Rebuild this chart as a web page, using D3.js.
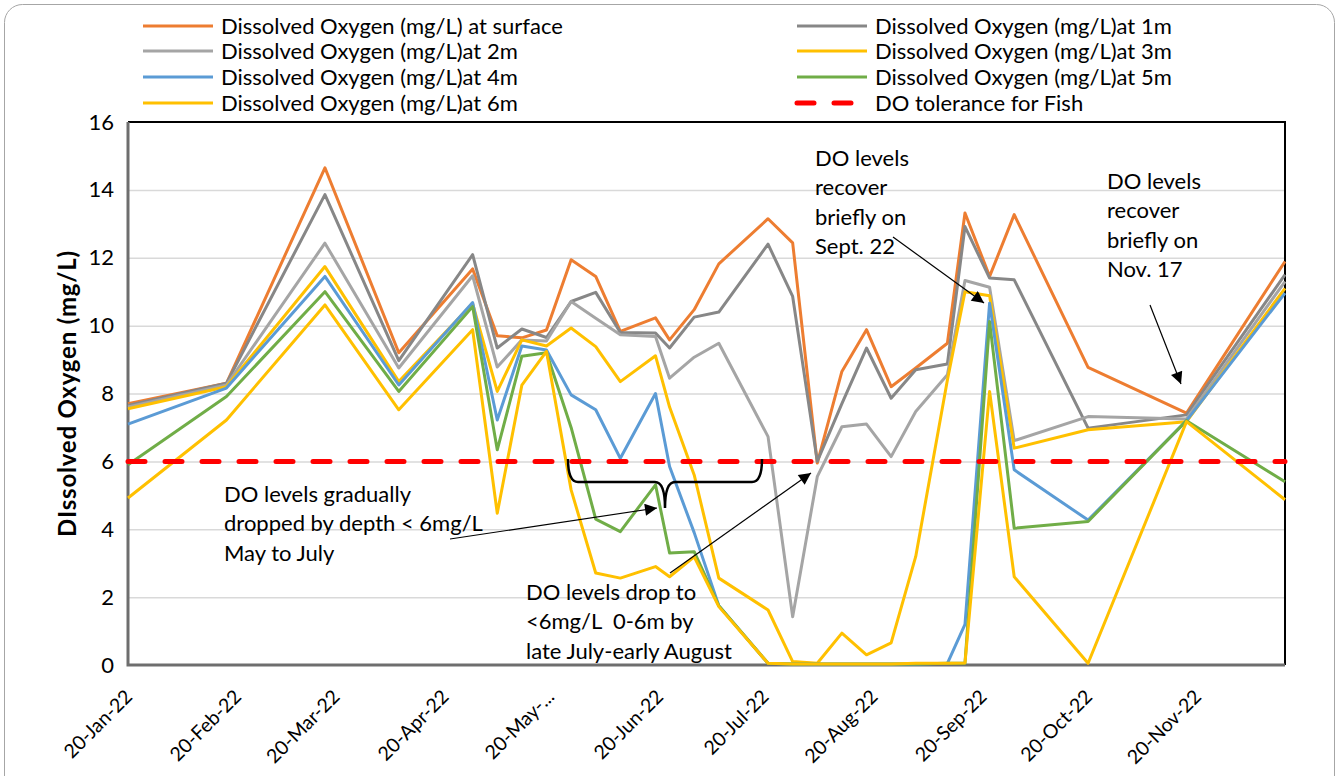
<!DOCTYPE html>
<html>
<head>
<meta charset="utf-8">
<script src="https://cdn.jsdelivr.net/npm/d3@7"></script>
<style>
  body { margin: 0; background: #fff; }
  text { font-family: Lato, "Open Sans", sans-serif; fill: #000; }
</style>
</head>
<body>
<div id="chart"></div>
<script>
// sampling dates and DO readings per depth (mg/L)
var sampleDates = ["2022-01-20", "2022-02-17", "2022-03-17", "2022-04-07", "2022-04-28", "2022-05-05",
  "2022-05-12", "2022-05-19", "2022-05-26", "2022-06-02", "2022-06-09", "2022-06-19", "2022-06-23",
  "2022-06-30", "2022-07-07", "2022-07-21", "2022-07-28", "2022-08-04", "2022-08-11", "2022-08-18",
  "2022-08-25", "2022-09-01", "2022-09-10", "2022-09-15", "2022-09-22", "2022-09-29", "2022-10-20",
  "2022-11-17", "2022-12-15"];

var doSurface = [7.7, 8.3, 14.65, 9.2, 11.67, 9.7, 9.64, 9.87, 11.94, 11.45, 9.83, 10.23, 9.58, 10.47, 11.82,
  13.15, 12.44, 5.95, 8.65, 9.88, 8.2, 8.75, 9.48, 13.32, 11.45, 13.27, 8.77, 7.42, 11.89];
var do1m = [7.65, 8.3, 13.86, 8.97, 12.09, 9.34, 9.9, 9.65, 10.71, 10.98, 9.8, 9.78, 9.34, 10.25, 10.4,
  12.4, 10.86, 6.0, 7.7, 9.34, 7.86, 8.7, 8.87, 12.92, 11.4, 11.35, 6.98, 7.37, 11.5];
var do2m = [7.6, 8.25, 12.43, 8.75, 11.47, 8.78, 9.58, 9.55, 10.71, 10.22, 9.73, 9.68, 8.45, 9.07, 9.48,
  6.73, 1.42, 5.55, 7.02, 7.1, 6.14, 7.47, 8.55, 11.33, 11.13, 6.61, 7.32, 7.25, 11.3];
var do3m = [7.55, 8.2, 11.74, 8.35, 10.65, 8.06, 9.58, 9.4, 9.93, 9.38, 8.35, 9.11, 7.6, 5.6, 2.56,
  1.62, 0.1, 0.05, 0.94, 0.3, 0.65, 3.2, 8.4, 11.0, 10.88, 6.39, 6.93, 7.17, 11.1];
var do4m = [7.1, 8.16, 11.45, 8.25, 10.68, 7.22, 9.4, 9.28, 7.96, 7.52, 6.09, 8.0, 5.85, 3.9, 1.75,
  0.05, 0.03, 0.03, 0.03, 0.03, 0.03, 0.03, 0.05, 1.2, 10.66, 5.75, 4.27, 7.2, 10.96];
var do5m = [5.9, 7.91, 11.0, 8.06, 10.56, 6.34, 9.1, 9.2, 7.0, 4.3, 3.93, 5.31, 3.3, 3.34, 1.75,
  0.05, 0.03, 0.03, 0.03, 0.03, 0.03, 0.03, 0.05, 0.05, 10.12, 4.03, 4.23, 7.2, 5.4];
var do6m = [4.92, 7.22, 10.61, 7.52, 9.88, 4.47, 8.25, 9.24, 5.16, 2.71, 2.56, 2.9, 2.6, 3.19, 1.72,
  0.05, 0.03, 0.03, 0.03, 0.03, 0.03, 0.05, 0.05, 0.06, 8.06, 2.6, 0.05, 7.17, 4.87];
var fishTolerance = 6;

var seriesNames = ["Dissolved Oxygen (mg/L) at surface", "Dissolved Oxygen (mg/L)at 1m",
  "Dissolved Oxygen (mg/L)at 2m", "Dissolved Oxygen (mg/L)at 3m", "Dissolved Oxygen (mg/L)at 4m",
  "Dissolved Oxygen (mg/L)at 5m", "Dissolved Oxygen (mg/L)at 6m", "DO tolerance for Fish"];
var seriesColors = ["#ED7D31", "#878787", "#A5A5A5", "#FFC000", "#5B9BD5", "#70AD47", "#FFC000", "#FF0000"];

var yTicks = [0, 2, 4, 6, 8, 10, 12, 14, 16];
var xTickDates = ["2022-01-20", "2022-02-20", "2022-03-20", "2022-04-20", "2022-05-20", "2022-06-20",
  "2022-07-20", "2022-08-20", "2022-09-20", "2022-10-20", "2022-11-20"];

// svg setup
var svgWidth = 1340;
var svgHeight = 776;
var margin = { top: 122, right: 55, bottom: 111, left: 128 };
var width = svgWidth - margin.left - margin.right;
var height = svgHeight - margin.top - margin.bottom;

var parseDate = d3.timeParse("%Y-%m-%d");
var fmtTick = d3.timeFormat("%d-%b-%y");
var dates = sampleDates.map(parseDate);

var svg = d3.select("#chart")
  .append("svg")
  .attr("width", svgWidth)
  .attr("height", svgHeight);

// outer chart frame
svg.append("rect")
  .attr("x", 4.5).attr("y", 4.5)
  .attr("width", 1330).attr("height", 820)
  .attr("rx", 18)
  .attr("fill", "none")
  .attr("stroke", "#A6A6A6")
  .attr("stroke-width", 1);

var defs = svg.append("defs");
defs.append("marker")
  .attr("id", "arrow")
  .attr("viewBox", "0 0 10 10")
  .attr("refX", 10).attr("refY", 5)
  .attr("markerWidth", 15).attr("markerHeight", 12)
  .attr("markerUnits", "userSpaceOnUse")
  .attr("orient", "auto")
  .append("path")
  .attr("d", "M0,0 L10,5 L0,10 Z")
  .attr("fill", "#000");

var chartGroup = svg.append("g")
  .attr("transform", `translate(${margin.left}, ${margin.top})`);

var xTimeScale = d3.scaleTime()
  .domain([dates[0], dates[dates.length - 1]])
  .range([0, width]);

var yLinearScale = d3.scaleLinear()
  .domain([0, 16])
  .range([height, 0]);

// gridlines
chartGroup.append("g")
  .attr("class", "grid")
  .call(d3.axisLeft(yLinearScale).tickValues(yTicks.slice(1, -1)).tickSize(-width).tickFormat(""))
  .call(g => g.select(".domain").remove())
  .call(g => g.selectAll("line").attr("stroke", "#D9D9D9").attr("stroke-width", 1.5));

// top and right border
chartGroup.append("path")
  .attr("d", `M0,0 H${width} V${height}`)
  .attr("fill", "none")
  .attr("stroke", "#000")
  .attr("stroke-width", 2);

// axes
var yAxis = d3.axisLeft(yLinearScale).tickValues(yTicks).tickSize(0).tickPadding(14);
chartGroup.append("g")
  .call(yAxis)
  .call(g => g.select(".domain").remove())
  .selectAll("text")
  .style("font-size", "22px")
  .style("font-family", "Lato, sans-serif");

var xAxis = d3.axisBottom(xTimeScale)
  .tickValues(xTickDates.map(parseDate))
  .tickSize(0)
  .tickFormat(d => d.getMonth() == 4 ? "20-May-..." : fmtTick(d));

chartGroup.append("g")
  .attr("transform", `translate(0, ${height})`)
  .call(xAxis)
  .call(g => g.select(".domain").remove())
  .selectAll("text")
  .attr("text-anchor", "end")
  .attr("dy", "0")
  .attr("y", 0)
  .attr("transform", "translate(5, 33) rotate(-45)")
  .style("font-size", "19.5px")
  .style("font-family", "Lato, sans-serif");

// axis lines in dark grey
chartGroup.append("path")
  .attr("d", `M0,0 V${height} H${width}`)
  .attr("fill", "none")
  .attr("stroke", "#6E6E6E")
  .attr("stroke-width", 3);

// y axis title
svg.append("text")
  .attr("transform", `translate(76, ${margin.top + height / 2}) rotate(-90)`)
  .attr("text-anchor", "middle")
  .style("font-size", "24px")
  .style("font-weight", "bold")
  .style("letter-spacing", "0.8px")
  .text("DIssolved Oxygen (mg/L)");

// lines
var allSeries = [doSurface, do1m, do2m, do3m, do4m, do5m, do6m];
var line = d3.line()
  .x((d, i) => xTimeScale(dates[i]))
  .y(d => yLinearScale(d));

allSeries.forEach(function(vals, k) {
  chartGroup.append("path")
    .datum(vals)
    .attr("d", line)
    .attr("fill", "none")
    .attr("stroke", seriesColors[k])
    .attr("stroke-width", 3)
    .attr("stroke-linejoin", "round");
});

// fish tolerance line
chartGroup.append("path")
  .datum(dates.map(() => fishTolerance))
  .attr("d", line)
  .attr("fill", "none")
  .attr("stroke", seriesColors[7])
  .attr("stroke-width", 5)
  .attr("stroke-dasharray", "17 20")
  .attr("stroke-linecap", "round");

// legend
var legendRows = [26, 51, 77, 103];
var legend = svg.append("g");
seriesNames.forEach(function(name, i) {
  var col = i % 2;
  var row = Math.floor(i / 2);
  var lx = col == 0 ? 143 : 797;
  var ly = legendRows[row];
  legend.append("line")
    .attr("x1", lx).attr("x2", lx + 70)
    .attr("y1", ly).attr("y2", ly)
    .attr("stroke", seriesColors[i])
    .attr("stroke-width", i == 7 ? 5 : 3)
    .attr("stroke-dasharray", i == 7 ? "17 20" : null)
    .attr("stroke-linecap", i == 7 ? "round" : "butt");
  legend.append("text")
    .attr("x", lx + 78)
    .attr("y", ly)
    .attr("dy", "0.35em")
    .style("font-size", "22px")
    .text(name);
});

// annotations
function addNote(x, y, lines) {
  var t = svg.append("text")
    .attr("x", x).attr("y", y)
    .style("font-size", "22px")
    .style("white-space", "pre");
  lines.forEach(function(s, i) {
    t.append("tspan").attr("x", x).attr("dy", i == 0 ? 0 : 29.3).text(s);
  });
}
function addArrow(x1, y1, x2, y2) {
  svg.append("line")
    .attr("x1", x1).attr("y1", y1)
    .attr("x2", x2).attr("y2", y2)
    .attr("stroke", "#000")
    .attr("stroke-width", 1.2)
    .attr("marker-end", "url(#arrow)");
}

addNote(224, 502, ["DO levels gradually", "dropped by depth < 6mg/L", "May to July"]);
addArrow(450, 539, 657, 508);

addNote(526, 600, ["DO levels drop to", "<6mg/L  0-6m by", "late July-early August"]);
addArrow(670, 573, 811, 473);

addNote(815, 166, ["DO levels", "recover", "briefly on", "Sept. 22"]);
addArrow(893, 237, 984, 303);

addNote(1107, 189, ["DO levels", "recover", "briefly on", "Nov. 17"]);
addArrow(1150, 305, 1181, 384);

// brace under the tolerance line
svg.append("path")
  .attr("d", "M568,459 Q568,482 578,482 L655,482 Q665,482 665,508 Q665,482 675,482 L752,482 Q762,482 762,459")
  .attr("fill", "none")
  .attr("stroke", "#000")
  .attr("stroke-width", 2.5);
</script>
</body>
</html>
